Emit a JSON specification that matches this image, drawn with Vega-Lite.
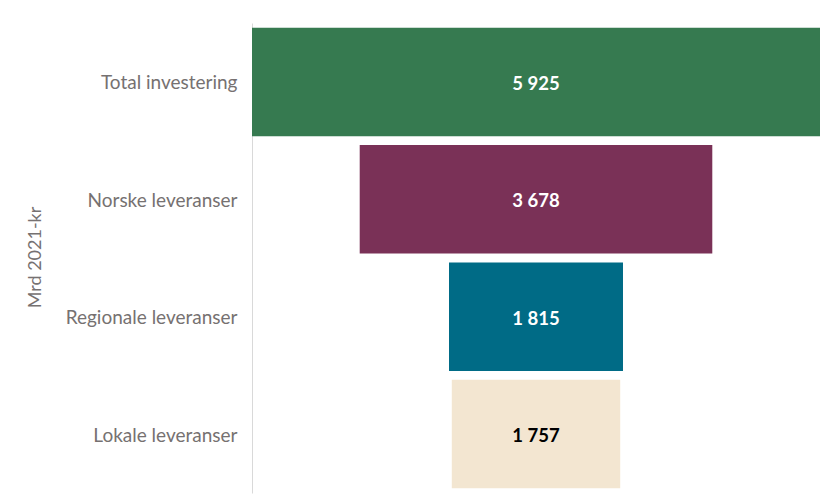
{
  "$schema": "https://vega.github.io/schema/vega-lite/v6.json",
  "width": 568,
  "height": 470,
  "autosize": {"type": "none"},
  "padding": {"left": 252, "top": 23, "right": 7, "bottom": 6},
  "background": "white",
  "config": {
    "view": {"stroke": null},
    "font": "Lato",
    "locale": {"number": {"decimal": ",", "thousands": " ", "grouping": [3], "currency": ["", " kr"]}}
  },
  "data": {
    "values": [
      {"kategori": "Total investering", "verdi": 5925},
      {"kategori": "Norske leveranser", "verdi": 3678},
      {"kategori": "Regionale leveranser", "verdi": 1815},
      {"kategori": "Lokale leveranser", "verdi": 1757}
    ]
  },
  "encoding": {
    "y": {
      "field": "kategori",
      "type": "nominal",
      "sort": null,
      "scale": {"paddingInner": 0.075, "paddingOuter": 0.04},
      "axis": {
        "title": "Mrd 2021-kr",
        "titleFont": "Lato",
        "titleFontSize": 18,
        "titleFontWeight": "normal",
        "titleColor": "#767171",
        "titleX": -217,
        "titleY": 234,
        "titleAngle": -90,
        "titleAlign": "center",
        "titleBaseline": "middle",
        "labelFont": "Lato",
        "labelFontSize": 19,
        "labelColor": "#767171",
        "labelPadding": 15,
        "labelOffset": 1.5,
        "ticks": false,
        "domainColor": "#D9D9D9",
        "domainWidth": 1
      }
    }
  },
  "layer": [
    {
      "mark": {"type": "bar"},
      "encoding": {
        "x": {
          "field": "verdi",
          "type": "quantitative",
          "stack": "center",
          "scale": {"domain": [0, 5925], "nice": false},
          "axis": null
        },
        "color": {
          "field": "kategori",
          "type": "nominal",
          "scale": {
            "domain": ["Total investering", "Norske leveranser", "Regionale leveranser", "Lokale leveranser"],
            "range": ["#367A50", "#7A3157", "#006B86", "#F3E6D1"]
          },
          "legend": null
        }
      }
    },
    {
      "mark": {"type": "text", "fontWeight": "bold", "fontSize": 18.5, "font": "Lato", "dy": 2},
      "encoding": {
        "x": {"datum": 2962.5, "type": "quantitative"},
        "text": {"field": "verdi", "type": "quantitative", "format": ",d"},
        "color": {
          "condition": {"test": "datum.kategori === 'Lokale leveranser'", "value": "#000000"},
          "value": "#FFFFFF"
        }
      }
    }
  ]
}
